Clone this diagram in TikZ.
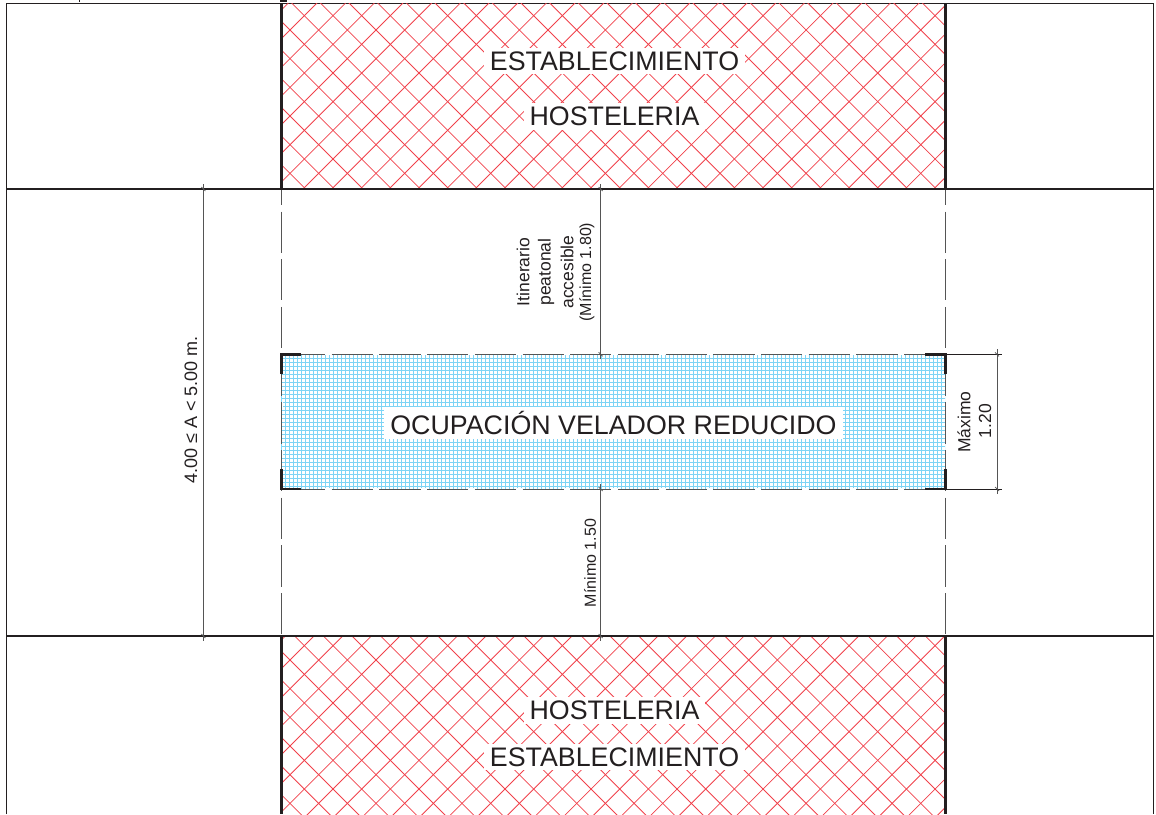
\documentclass[tikz,border=0pt]{standalone}
\usepackage{fontspec}
\setmainfont{Liberation Sans}
\definecolor{ink}{RGB}{35,31,32}
\definecolor{dimc}{RGB}{85,85,85}
\definecolor{hatchred}{RGB}{240,65,75}
\definecolor{gridblue}{RGB}{125,212,245}
\tikzset{
  x=1pt,y=-1pt,
  frameline/.style={draw=ink,line width=0.9pt},
  wall/.style={draw=ink,line width=2.6pt},
  hatchline/.style={draw=hatchred,line width=0.8pt},
  gridline/.style={draw=gridblue,line width=0.65pt},
  limitline/.style={draw=dimc,line width=1pt,dash pattern=on 41.2pt off 6.5pt},
  gapline/.style={draw=white,line width=2pt,dash pattern=on 6.5pt off 41.2pt},
  cornerline/.style={draw=ink,line width=2.8pt},
  dimline/.style={draw=dimc,line width=0.9pt,shorten <=-5pt,shorten >=-5pt},
  bigtext/.style={fill=white,inner xsep=6pt,inner ysep=4pt,font=\fontsize{26.8}{26.8}\selectfont,text=ink},
  smalltext/.style={rotate=90,inner sep=0pt,font=\fontsize{17.5}{17.5}\selectfont,text=ink},
  widetext/.style={rotate=90,inner sep=0pt,font=\fontsize{18}{18}\selectfont,text=ink},
  thintext/.style={rotate=90,inner sep=0pt,font=\fontsize{16}{16}\selectfont,text=ink},
}
\begin{document}
\begin{tikzpicture}
\useasboundingbox (0,0) rectangle (1156,814);
% frame (open at the bottom of the page)
\draw[frameline] (6.5,814) -- (6.5,3.5) -- (1153.5,3.5) -- (1153.5,814);
% cut-off marks at the upper page edge
\fill[ink] (78.5,0) rectangle (80,1.6);
\fill[ink] (280,0) rectangle (287,2);
% hatch: upper establishment
\begin{scope}
\clip (281,3.5) rectangle (945,189);
\foreach \k in {-2,...,29}{
  \pgfmathsetmacro{\c}{320+28.67*\k}
  \draw[hatchline] ({\c+100},-100) -- ({\c-900},900);
}
\foreach \k in {-7,...,24}{
  \pgfmathsetmacro{\d}{260+28.67*\k}
  \draw[hatchline] ({\d-100},-100) -- ({\d+900},900);
}
\end{scope}
% hatch: lower establishment
\begin{scope}
\clip (281,636) rectangle (945,814);
\foreach \k in {-2,...,29}{
  \pgfmathsetmacro{\c}{950+28.67*\k}
  \draw[hatchline] ({\c+100},-100) -- ({\c-900},900);
}
\foreach \k in {-6,...,24}{
  \pgfmathsetmacro{\d}{-370+28.67*\k}
  \draw[hatchline] ({\d-100},-100) -- ({\d+900},900);
}
\end{scope}
% terrace grid
\begin{scope}
\clip (281,354) rectangle (945,489);
\foreach \k in {0,...,166}{
  \draw[gridline] ({281+4*\k},354) -- ({281+4*\k},489);
}
\foreach \k in {0,...,34}{
  \draw[gridline] (281,{354+4*\k}) -- (945,{354+4*\k});
}
\end{scope}
% terrace limits
\draw[gapline,dash phase=-41.2pt] (284,354.3) -- (945,354.3);
\draw[gapline,dash phase=-41.2pt] (284,489) -- (945,489);
\draw[gapline,dash phase=25.2pt] (281.5,189) -- (281.5,636);
\draw[gapline,dash phase=25.2pt] (945.5,189) -- (945.5,636);
\draw[limitline,dash phase=0pt] (284,354.3) -- (945,354.3);
\draw[limitline,dash phase=0pt] (284,489) -- (945,489);
\draw[limitline,dash phase=25.2pt] (281.5,189) -- (281.5,636);
\draw[limitline,dash phase=25.2pt] (945.5,189) -- (945.5,636);
% walls
\draw[wall] (6,189) -- (1153.5,189);
\draw[wall] (6,636) -- (1153.5,636);
\draw[wall] (281.5,3.5) -- (281.5,189);
\draw[wall] (945.5,3.5) -- (945.5,189);
\draw[wall] (281.5,636) -- (281.5,814);
\draw[wall] (945.5,636) -- (945.5,814);
% corners
\draw[cornerline] (301,354.5) -- (281.5,354.5) -- (281.5,374);
\draw[cornerline] (301,489) -- (281.5,489) -- (281.5,469);
\draw[cornerline] (925,354.5) -- (945.5,354.5) -- (945.5,374);
\draw[cornerline] (925,489) -- (945.5,489) -- (945.5,469);
% dimension end points
\coordinate (dimAa) at (203.4,189);
\coordinate (dimAb) at (203.4,636);
\coordinate (dimBa) at (600.6,189);
\coordinate (dimBb) at (600.6,354.3);
\coordinate (dimCa) at (600.6,489);
\coordinate (dimCb) at (600.6,636);
\coordinate (dimDa) at (997,354.3);
\coordinate (dimDb) at (997,489);
\coordinate (extDa) at (945.5,354.3);
\coordinate (extDb) at (945.5,489);
\coordinate (extDc) at (1002,354.3);
\coordinate (extDd) at (1002,489);
\draw[dimline] (dimAa) -- (dimAb);
\draw[dimline] (dimBa) -- (dimBb);
\draw[dimline] (dimCa) -- (dimCb);
\draw[dimline] (dimDa) -- (dimDb);
\draw[draw=ink,line width=0.8pt] (extDa) -- (extDc);
\draw[draw=ink,line width=0.8pt] (extDb) -- (extDd);
% dimension ticks
\foreach \p in {dimAa,dimAb,dimBa,dimBb,dimCa,dimCb,dimDa,dimDb}{
  \draw[draw=dimc,line width=0.7pt] ([xshift=-2pt,yshift=2pt]\p) -- ([xshift=2pt,yshift=-2pt]\p);
}
% labels
\node[bigtext] (estA) at (614.5,61) {ESTABLECIMIENTO};
\node[bigtext] (hosA) at (614.5,116.5) {HOSTELERIA};
\node[bigtext] (hosB) at (614.5,710.5) {HOSTELERIA};
\node[bigtext] (estB) at (614.5,757) {ESTABLECIMIENTO};
\node[bigtext] (ocup) at (613.5,423) {OCUPACIÓN VELADOR REDUCIDO};
\node[widetext] (anch) at (191,410) {4.00 ≤ A < 5.00 m.};
\node[smalltext] (itiA) at (523,272) {Itinerario};
\node[smalltext] (itiB) at (546,272) {peatonal};
\node[smalltext] (itiC) at (567,272) {accesible};
\node[thintext] (itiD) at (587,272) {(Mínimo 1.80)};
\node[thintext] (mini) at (590,563) {Mínimo 1.50};
\node[smalltext] (maxA) at (964,422) {Máximo};
\node[smalltext] (maxB) at (985,421) {1.20};
\end{tikzpicture}
\end{document}
